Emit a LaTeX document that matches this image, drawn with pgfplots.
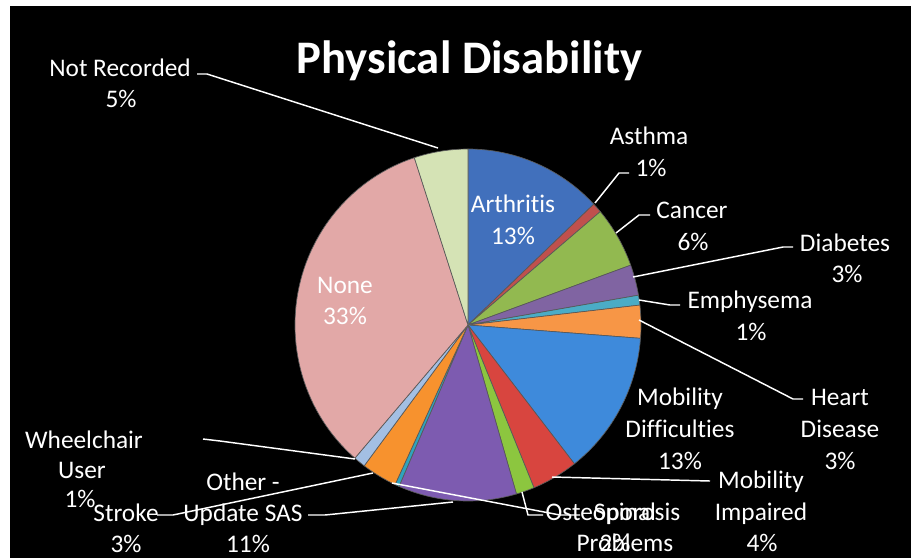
\documentclass[border=0pt]{standalone}
\usepackage{pgfplots}
\pgfplotsset{compat=1.18}
\usepackage{pgfplotstable}
\usepackage{fontspec}
\setmainfont[Ligatures=NoCommon]{Carlito}

\definecolor{cArth}{HTML}{4170BC}
\definecolor{cAsth}{HTML}{C0504D}
\definecolor{cCanc}{HTML}{92B950}
\definecolor{cDiab}{HTML}{8064A2}
\definecolor{cEmph}{HTML}{4BACC6}
\definecolor{cHear}{HTML}{F79646}
\definecolor{cMDif}{HTML}{3E8ADB}
\definecolor{cMImp}{HTML}{D8453F}
\definecolor{cOste}{HTML}{8CC63F}
\definecolor{cOthe}{HTML}{7D5BB0}
\definecolor{cSpin}{HTML}{2FA4BD}
\definecolor{cStro}{HTML}{F7922E}
\definecolor{cWhee}{HTML}{A3BFE3}
\definecolor{cNone}{HTML}{E2A8A7}
\definecolor{cNotR}{HTML}{D5E3B5}

% slices clockwise from 12 o'clock
\pgfplotstableread{
value col
12.9 cArth
0.9  cAsth
5.6  cCanc
2.8  cDiab
0.9  cEmph
3.0  cHear
13.2 cMDif
4.3  cMImp
1.7  cOste
11.0 cOthe
0.4  cSpin
3.3  cStro
1.1  cWhee
33.5 cNone
5.0  cNotR
}\piedata

\newcommand{\lab}[3]{\node[anchor=base, text=white, inner sep=0pt, font=\fontsize{19}{23}\selectfont] at (axis cs:#1,#2) {#3};}

\begin{document}
\begin{tikzpicture}
\begin{axis}[x=0.75pt, y=0.75pt, xmin=0, xmax=911, ymin=0, ymax=558,
  y dir=reverse, hide axis, clip=false, scale only axis]
\fill[white] (axis cs:0,0) rectangle (axis cs:911,558);
\fill[black] (axis cs:10,6) rectangle (axis cs:911,558);
\pgfplotsextra{%
  \pgfplotstablegetrowsof{\piedata}%
  \pgfmathtruncatemacro{\lastrow}{\pgfplotsretval-1}%
  \gdef\pietotal{0}%
  \pgfplotsforeachungrouped \i in {0,...,\lastrow}{%
    \pgfplotstablegetelem{\i}{value}\of{\piedata}%
    \pgfmathsetmacro{\tmp}{\pietotal+\pgfplotsretval}%
    \xdef\pietotal{\tmp}%
  }%
  \pgfmathsetmacro{\piescale}{360/\pietotal}%
  \gdef\piecum{0}%
  \pgfplotsforeachungrouped \i in {0,...,\lastrow}{%
    \pgfplotstablegetelem{\i}{value}\of{\piedata}\let\pv\pgfplotsretval
    \pgfplotstablegetelem{\i}{col}\of{\piedata}\let\pc\pgfplotsretval
    \pgfmathsetmacro{\pa}{90-\piecum*\piescale}%
    \pgfmathsetmacro{\pb}{90-(\piecum+\pv)*\piescale}%
    \fill[fill=\pc, draw=black!65, line width=0.5pt, shift={(axis cs:468,325)}]
      (0pt,0pt) -- ({cos(\pa)*129.75pt},{sin(\pa)*132pt})
      arc[start angle=\pa, end angle=\pb, x radius=129.75pt, y radius=132pt] -- cycle;
    \pgfmathsetmacro{\tmp}{\piecum+\pv}\xdef\piecum{\tmp}%
  }%
}
% leader lines
\draw[white, line width=1.1pt] (axis cs:197,74) -- (axis cs:207,74) -- (axis cs:438,148);
\draw[white, line width=1.1pt] (axis cs:629,173) -- (axis cs:619,173) -- (axis cs:595,203);
\draw[white, line width=1.1pt] (axis cs:650,215) -- (axis cs:639,215) -- (axis cs:616,233);
\draw[white, line width=1.1pt] (axis cs:793,247) -- (axis cs:783,247) -- (axis cs:633,277);
\draw[white, line width=1.1pt] (axis cs:680,305) -- (axis cs:670,305) -- (axis cs:639,300);
\draw[white, line width=1.1pt] (axis cs:803,399) -- (axis cs:793,399) -- (axis cs:639,320);
\draw[white, line width=1.1pt] (axis cs:710,481) -- (axis cs:552,477);
\draw[white, line width=1.1pt] (axis cs:543,515) -- (axis cs:528,515) -- (axis cs:522,492);
\draw[white, line width=1.1pt] (axis cs:580,515) -- (axis cs:560,515) -- (axis cs:392,483);
\draw[white, line width=1.1pt] (axis cs:308,515) -- (axis cs:325,515) -- (axis cs:453,502);
\draw[white, line width=1.1pt] (axis cs:157,515) -- (axis cs:173,515) -- (axis cs:373,473);
\draw[white, line width=1.1pt] (axis cs:203,439) -- (axis cs:220,441) -- (axis cs:355,459);
% title
\node[anchor=base, text=white, inner sep=0pt, font=\fontsize{35}{40}\selectfont\bfseries] at (axis cs:469.5,73) {Physical Disability};
% labels
\lab{120}{76}{Not Recorded} \lab{121}{107}{5\%}
\lab{649}{144}{Asthma} \lab{651}{176}{1\%}
\lab{692}{218}{Cancer} \lab{693}{250}{6\%}
\lab{845}{251}{Diabetes} \lab{847}{282}{3\%}
\lab{750}{308}{Emphysema} \lab{751}{340}{1\%}
\lab{840}{405}{Heart} \lab{840}{437}{Disease} \lab{840}{469}{3\%}
\lab{680}{405}{Mobility} \lab{680}{437}{Difficulties} \lab{680}{469}{13\%}
\lab{761}{488}{Mobility} \lab{761}{520}{Impaired} \lab{762}{551}{4\%}
\lab{613}{520}{Osteoporosis} \lab{615}{551}{2\%}
\lab{625}{520}{Spinal} \lab{625}{551}{Problems}
\lab{243}{490}{Other -} \lab{243}{521}{Update SAS} \lab{248}{552}{11\%}
\lab{126}{521}{Stroke} \lab{126}{552}{3\%}
\lab{84}{448}{Wheelchair} \lab{82}{478}{User} \lab{80}{507}{1\%}
\lab{513}{212}{Arthritis} \lab{513}{244}{13\%}
\lab{345}{293}{None} \lab{345}{324}{33\%}
\end{axis}
\end{tikzpicture}
\end{document}
